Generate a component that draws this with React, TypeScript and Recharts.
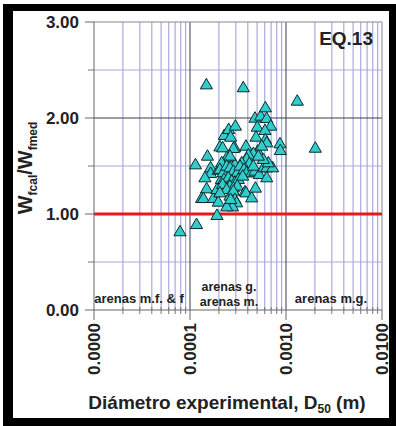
import React from 'react';
import { ScatterChart, Scatter, XAxis, YAxis, ZAxis, ReferenceLine } from 'recharts';

// D50 (m) and Wfcal/Wfmed
const d50 = [
  1.48e-4, 3.59e-4, 1.31e-3, 2.02e-3, 7.87e-5, 1.17e-4, 1.91e-4, 1.14e-4, 1.52e-4, 1.64e-4,
  1.64e-4, 1.43e-4, 1.49e-4, 1.32e-4, 1.38e-4, 1.75e-4, 1.97e-4, 1.91e-4, 1.97e-4, 2.12e-4,
  2.05e-4, 2.19e-4, 2.28e-4, 2.53e-4, 2.65e-4, 2.97e-4, 2.92e-4, 2.83e-4, 3.83e-4, 4.75e-4,
  5.45e-4, 6.1e-4, 6.3e-4, 5.02e-4, 6.92e-4, 6.04e-4, 4.87e-4, 6.1e-4, 6.3e-4, 8.66e-4,
  8.73e-4, 5.07e-4, 5.59e-4, 4.57e-4, 4.06e-4, 3.89e-4, 4.15e-4, 3.45e-4, 2.94e-4, 2.41e-4,
  2.61e-4, 2.14e-4, 2.05e-4, 2.22e-4, 2.41e-4, 2.61e-4, 2.83e-4, 3.11e-4, 3.32e-4, 3.65e-4,
  3.89e-4, 4.39e-4, 4.75e-4, 5.27e-4, 5.81e-4, 6.3e-4, 7.26e-4, 6.3e-4, 6.55e-4, 5.81e-4,
  5.15e-4, 4.57e-4, 2.26e-4, 2.51e-4, 2.72e-4, 2.94e-4, 3.19e-4, 3.54e-4, 2.61e-4, 2.83e-4,
  3.11e-4, 2.19e-4, 2.41e-4, 2.61e-4, 2.83e-4, 2.94e-4, 3.06e-4, 2.78e-4, 2.41e-4, 2.65e-4,
  2.05e-4, 3.74e-4, 3.83e-4, 4.39e-4, 4.8e-4,
];
const ratio = [
  2.34, 2.31, 2.17, 1.68, 0.81, 0.885, 0.98, 1.507, 1.597, 1.476,
  1.417, 1.372, 1.257, 1.156, 1.156, 1.156, 1.118, 1.25, 1.451, 1.354,
  1.694, 1.684, 1.813, 1.875, 1.795, 1.91, 1.684, 1.677, 1.701, 1.993,
  2.014, 2.101, 1.99, 1.899, 1.91, 1.865, 1.795, 1.771, 1.736, 1.726,
  1.656, 1.649, 1.701, 1.625, 1.611, 1.569, 1.521, 1.528, 1.51, 1.58,
  1.597, 1.528, 1.458, 1.424, 1.493, 1.476, 1.441, 1.424, 1.493, 1.458,
  1.424, 1.424, 1.441, 1.406, 1.476, 1.476, 1.476, 1.372, 1.528, 1.5625,
  1.597, 1.493, 1.354, 1.372, 1.337, 1.326, 1.354, 1.389, 1.285, 1.267,
  1.285, 1.302, 1.25, 1.181, 1.233, 1.146, 1.111, 1.069, 1.069, 1.146,
  1.215, 1.226, 1.215, 1.163, 1.264,
];

const xDecades = [0.00001, 0.0001, 0.001, 0.01];
const xMinor = [
  0.00002, 0.00003, 0.00004, 0.00005, 0.00006, 0.00007, 0.00008, 0.00009,
  0.0002, 0.0003, 0.0004, 0.0005, 0.0006, 0.0007, 0.0008, 0.0009,
  0.002, 0.003, 0.004, 0.005, 0.006, 0.007, 0.008, 0.009,
];
const yTicks = [0, 0.5, 1, 1.5, 2, 2.5, 3];
const yMinor = [0.5, 1.5, 2.5];

const points = d50.map((d, i) => ({ d, r: ratio[i] }));
const xTicks = [...xDecades, ...xMinor].sort((a, b) => a - b);

const FONT = '"Liberation Sans", Arial, sans-serif';
const LAVENDER = '#aaaae0';
const DARK = '#3c3c3c';

const isDecade = (v: number) => xDecades.some((d) => Math.abs(d - v) / d < 1e-6);

const XTick = (props: any) => {
  const { x, y, payload } = props;
  const v = payload.value;
  if (!isDecade(v)) {
    return <line x1={x} x2={x} y1={y - 3} y2={y + 4} stroke="#777" />;
  }
  return (
    <g>
      <line x1={x} x2={x} y1={y} y2={y + 10} stroke="#666" />
      <text
        transform={`translate(${x},${y + 13}) rotate(-90)`}
        textAnchor="end"
        dy="0.36em"
        fontSize={17}
        fontWeight="bold"
        fill="#222"
        fontFamily={FONT}
      >
        {v.toFixed(4)}
      </text>
    </g>
  );
};

const YTick = (props: any) => {
  const { x, y, payload } = props;
  const v = payload.value;
  if (!Number.isInteger(v)) {
    return <line x1={x - 6} x2={x} y1={y} y2={y} stroke="#777" />;
  }
  return (
    <g>
      <line x1={x - 9} x2={x} y1={y} y2={y} stroke="#666" />
      <text x={x - 15} y={y} dy="0.36em" textAnchor="end" fontSize={17} fontWeight="bold" fill="#222" fontFamily={FONT}>
        {v.toFixed(2)}
      </text>
    </g>
  );
};

export default function App() {
  return (
    <div style={{ position: 'absolute', left: 0, top: 0, width: 396, height: 426, background: '#fff' }}>
      <div
        style={{
          position: 'absolute',
          left: 3,
          top: 4,
          width: 393,
          height: 422,
          boxSizing: 'border-box',
          borderStyle: 'solid',
          borderColor: '#000',
          borderWidth: '7px 7px 8px 10px',
        }}
      />
      <div style={{ position: 'absolute', left: 0, top: 0 }}>
        <ScatterChart width={396} height={426} margin={{ top: 22, right: 14, bottom: 36, left: 34 }}>
          <XAxis
            dataKey="d"
            type="number"
            scale="log"
            domain={[0.00001, 0.01]}
            allowDataOverflow
            ticks={xTicks}
            interval={0}
            tick={<XTick />}
            tickLine={false}
            tickSize={0}
            tickMargin={0}
            height={80}
            axisLine={{ stroke: '#666' }}
          />
          <YAxis
            dataKey="r"
            type="number"
            domain={[0, 3]}
            ticks={yTicks}
            interval={0}
            tick={<YTick />}
            tickLine={false}
            tickSize={0}
            tickMargin={0}
            width={60}
            axisLine={{ stroke: '#666' }}
          />
          <ZAxis type="number" range={[36, 36]} />
          {xMinor.map((v) => (
            <ReferenceLine key={'xm' + v} x={v} stroke={LAVENDER} strokeWidth={1.2} />
          ))}
          {yMinor.map((v) => (
            <ReferenceLine key={'ym' + v} y={v} stroke={LAVENDER} strokeWidth={1.2} />
          ))}
          <ReferenceLine x={0.0001} stroke={DARK} />
          <ReferenceLine x={0.001} stroke={DARK} />
          <ReferenceLine x={0.01} stroke="#888" />
          <ReferenceLine y={2} stroke={DARK} />
          <ReferenceLine y={3} stroke="#888" />
          <ReferenceLine y={1} stroke="#e31b1b" strokeWidth={3} />
          <Scatter
            data={points}
            shape="triangle"
            fill="#33cccc"
            stroke="#0b2b2b"
            strokeWidth={1}
            isAnimationActive={false}
          />
        </ScatterChart>
      </div>
      <svg
        width={396}
        height={426}
        style={{ position: 'absolute', left: 0, top: 0, pointerEvents: 'none' }}
        fontFamily={FONT}
        fontWeight="bold"
        fill="#222"
      >
        <text x={373} y={45} textAnchor="end" fontSize={19}>EQ.13</text>
        <text x={139} y={303} textAnchor="middle" fontSize={13}>arenas m.f. &amp; f</text>
        <text x={229} y={291} textAnchor="middle" fontSize={12.5}>arenas g.</text>
        <text x={229} y={306} textAnchor="middle" fontSize={12.5}>arenas m.</text>
        <text x={331} y={303} textAnchor="middle" fontSize={13}>arenas m.g.</text>
        <text transform="translate(32,168) rotate(-90)" textAnchor="middle" fontSize={20}>
          W<tspan fontSize={12} dy={5}>fcal</tspan>
          <tspan fontSize={20} dy={-5}>/W</tspan>
          <tspan fontSize={12} dy={5}>fmed</tspan>
        </text>
        <text x={227} y={409} textAnchor="middle" fontSize={19}>
          Diámetro experimental, D<tspan fontSize={12} dy={4}>50</tspan>
          <tspan fontSize={19} dy={-4}> (m)</tspan>
        </text>
      </svg>
    </div>
  );
}
